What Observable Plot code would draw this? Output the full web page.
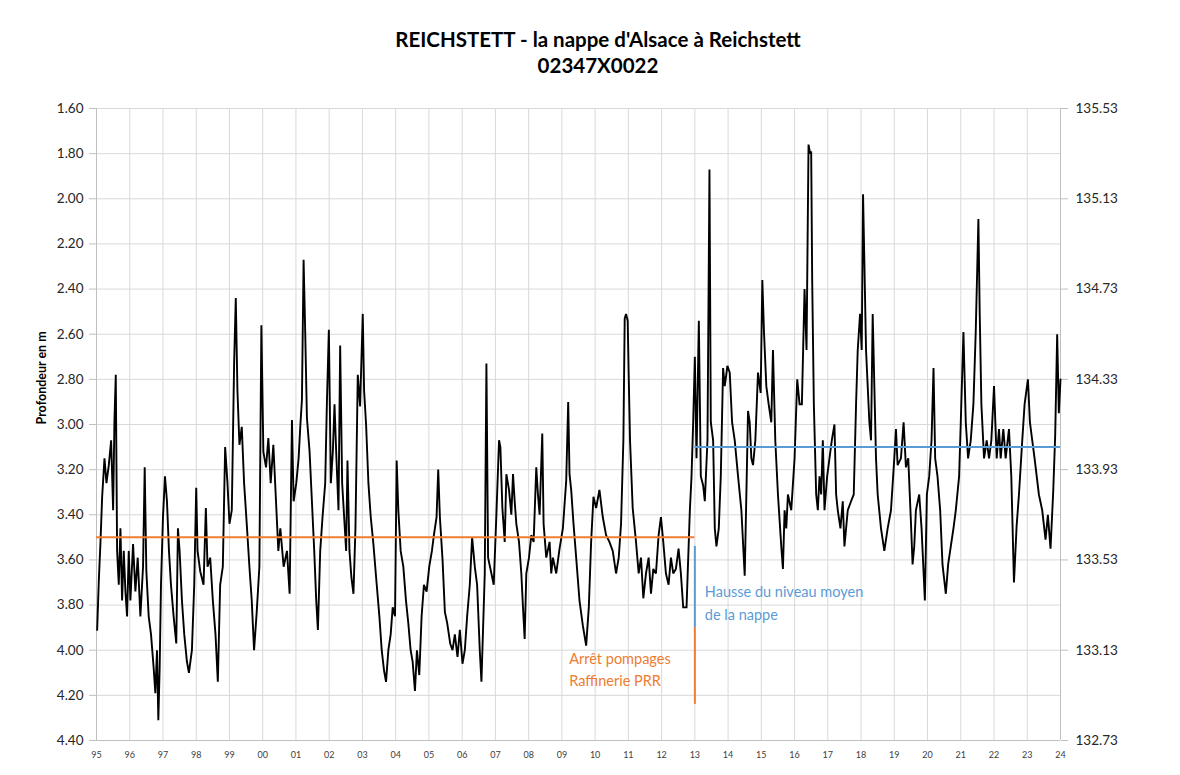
<!DOCTYPE html>
<html><head><meta charset="utf-8">
<script src="https://cdn.jsdelivr.net/npm/d3@7"></script>
<script src="https://cdn.jsdelivr.net/npm/@observablehq/plot@0.6"></script>
<style>
body{margin:0;background:#fff;font-family:Lato,"Open Sans",sans-serif;}
#wrap{position:relative;width:1180px;height:775px;overflow:hidden;}
#title{position:absolute;left:598px;top:26px;transform:translateX(-50%);text-align:center;font-weight:bold;font-size:20.5px;line-height:26px;color:#000;white-space:nowrap;}
#chart{position:absolute;left:0;top:95px;}
</style></head><body>
<div id="wrap">
<div id="title">REICHSTETT - la nappe d'Alsace à Reichstett<br>02347X0022</div>
<div id="chart"></div>
</div>
<script>
// Time (decimal years) and depth (m below ground)
const years = [
1995.02,1995.07,1995.12,1995.17,1995.24,1995.30,1995.37,1995.44,1995.50,1995.54,1995.58,1995.62,1995.67,1995.72,1995.77,1995.82,1995.87,1995.92,1995.97,
1996.02,1996.10,1996.17,1996.24,1996.32,1996.40,1996.45,1996.50,1996.57,1996.64,1996.72,1996.77,1996.82,1996.86,1996.90,1996.94,
1997.00,1997.06,1997.12,1997.18,1997.24,1997.32,1997.40,1997.45,1997.50,1997.57,1997.64,1997.72,1997.78,1997.87,1997.94,
1998.00,1998.04,1998.12,1998.22,1998.29,1998.34,1998.42,1998.50,1998.58,1998.65,1998.72,1998.80,1998.87,1998.94,
1999.00,1999.07,1999.14,1999.19,1999.24,1999.30,1999.37,1999.44,1999.52,1999.60,1999.67,1999.74,1999.82,1999.90,1999.96,
2000.02,2000.10,2000.17,2000.24,2000.32,2000.40,2000.47,2000.53,2000.63,2000.73,2000.81,2000.88,2000.93,
2001.01,2001.08,2001.13,2001.18,2001.23,2001.28,2001.33,2001.41,2001.48,2001.55,2001.61,2001.66,2001.73,2001.80,2001.88,2001.93,2001.99,
2002.05,2002.11,2002.16,2002.21,2002.28,2002.33,2002.39,2002.45,2002.51,2002.55,2002.61,2002.67,2002.73,2002.79,2002.86,2002.93,
2003.01,2003.05,2003.11,2003.18,2003.25,2003.33,2003.43,2003.51,2003.58,2003.65,2003.71,2003.78,2003.85,2003.91,2003.98,
2004.03,2004.08,2004.15,2004.23,2004.31,2004.38,2004.45,2004.51,2004.58,2004.64,2004.71,2004.78,2004.85,2004.93,
2005.01,2005.09,2005.15,2005.23,2005.28,2005.33,2005.41,2005.48,2005.55,2005.64,2005.71,2005.78,2005.86,2005.93,
2006.01,2006.08,2006.15,2006.23,2006.30,2006.38,2006.45,2006.53,2006.58,2006.68,2006.73,2006.78,2006.88,2006.95,
2007.03,2007.11,2007.15,2007.21,2007.28,2007.33,2007.41,2007.48,2007.53,2007.58,2007.63,2007.71,2007.78,2007.83,2007.88,2007.93,
2008.01,2008.08,2008.15,2008.23,2008.28,2008.33,2008.41,2008.45,2008.53,2008.63,2008.68,2008.73,2008.83,2008.93,
2009.03,2009.13,2009.19,2009.23,2009.28,2009.35,2009.43,2009.53,2009.63,2009.73,2009.81,2009.88,2009.95,
2010.03,2010.13,2010.23,2010.33,2010.43,2010.53,2010.63,2010.71,2010.78,2010.85,2010.89,2010.93,2010.98,
2011.01,2011.05,2011.13,2011.23,2011.31,2011.38,2011.45,2011.53,2011.61,2011.68,2011.75,2011.83,2011.91,2011.98,
2012.05,2012.13,2012.21,2012.28,2012.35,2012.43,2012.51,2012.58,2012.65,2012.75,2012.85,2012.90,2012.95,
2013.00,2013.05,2013.12,2013.18,2013.25,2013.30,2013.38,2013.44,2013.48,2013.55,2013.60,2013.65,2013.72,2013.78,2013.85,2013.90,2013.98,
2014.05,2014.12,2014.20,2014.30,2014.40,2014.50,2014.55,2014.60,2014.65,2014.70,2014.75,2014.82,2014.90,2014.98,
2015.03,2015.08,2015.15,2015.22,2015.30,2015.35,2015.42,2015.50,2015.60,2015.65,2015.70,2015.75,2015.80,2015.90,
2016.00,2016.08,2016.15,2016.22,2016.30,2016.36,2016.42,2016.47,2016.50,2016.53,2016.58,2016.65,2016.70,2016.75,2016.80,2016.85,2016.90,2016.98,
2017.05,2017.12,2017.20,2017.25,2017.30,2017.38,2017.45,2017.50,2017.60,2017.70,2017.78,2017.85,2017.90,2017.97,
2018.02,2018.06,2018.10,2018.15,2018.20,2018.25,2018.30,2018.35,2018.40,2018.45,2018.50,2018.60,2018.70,2018.80,2018.90,
2019.00,2019.05,2019.10,2019.20,2019.28,2019.35,2019.42,2019.50,2019.55,2019.60,2019.65,2019.75,2019.82,2019.92,2019.98,
2020.05,2020.12,2020.18,2020.23,2020.30,2020.38,2020.45,2020.55,2020.62,2020.70,2020.78,2020.85,2020.95,
2021.00,2021.08,2021.15,2021.22,2021.30,2021.38,2021.45,2021.50,2021.53,2021.57,2021.62,2021.70,2021.78,2021.85,2021.92,
2022.00,2022.08,2022.15,2022.20,2022.28,2022.35,2022.45,2022.52,2022.60,2022.68,2022.75,2022.85,2022.92,
2023.02,2023.08,2023.15,2023.22,2023.35,2023.45,2023.55,2023.62,2023.70,2023.78,2023.84,2023.90,2023.95,2024.00
];
const depths = [
3.91,3.69,3.52,3.32,3.15,3.26,3.18,3.07,3.38,2.98,2.78,3.56,3.71,3.46,3.78,3.56,3.74,3.85,3.56,
3.78,3.53,3.74,3.59,3.85,3.63,3.19,3.65,3.85,3.93,4.08,4.19,4.00,4.31,4.08,3.71,
3.41,3.23,3.34,3.56,3.71,3.85,3.97,3.46,3.56,3.78,3.93,4.05,4.10,4.00,3.71,
3.28,3.56,3.65,3.71,3.37,3.63,3.59,3.78,3.93,4.14,3.71,3.63,3.10,3.26,
3.44,3.38,2.73,2.44,2.85,3.09,3.01,3.26,3.44,3.63,3.78,4.00,3.83,3.63,2.56,
3.12,3.19,3.06,3.26,3.09,3.34,3.56,3.46,3.63,3.56,3.75,2.98,3.34,
3.26,3.15,3.01,2.89,2.27,2.60,2.97,3.12,3.34,3.56,3.78,3.91,3.56,3.41,3.26,2.91,2.58,
3.26,3.12,2.91,3.12,3.38,2.65,3.26,3.41,3.56,3.16,3.56,3.68,3.75,3.46,2.78,2.92,
2.51,2.85,3.00,3.26,3.41,3.53,3.71,3.85,4.00,4.09,4.14,4.00,3.93,3.81,3.85,
3.16,3.38,3.56,3.63,3.78,3.88,4.00,4.05,4.18,4.00,4.11,3.85,3.71,3.74,
3.63,3.56,3.49,3.41,3.20,3.41,3.60,3.83,3.88,3.97,4.00,3.93,4.03,3.91,
4.06,4.00,3.85,3.71,3.50,3.63,3.71,4.00,4.14,3.66,2.73,3.59,3.66,3.71,
3.40,3.07,3.10,3.37,3.52,3.22,3.29,3.40,3.22,3.34,3.44,3.52,3.66,3.81,3.95,3.66,
3.59,3.49,3.52,3.19,3.31,3.40,3.04,3.44,3.59,3.52,3.66,3.59,3.66,3.55,
3.46,3.25,2.90,3.22,3.29,3.44,3.59,3.78,3.89,3.98,3.81,3.52,3.32,
3.37,3.29,3.41,3.49,3.52,3.56,3.66,3.59,3.44,3.07,2.53,2.51,2.54,
2.78,3.07,3.37,3.52,3.66,3.59,3.77,3.66,3.59,3.75,3.64,3.66,3.49,3.41,
3.52,3.66,3.71,3.59,3.66,3.64,3.55,3.66,3.81,3.81,3.38,3.23,2.99,
2.70,3.15,2.54,3.23,3.27,3.34,3.07,1.87,2.99,3.07,3.46,3.54,3.46,3.23,2.75,2.83,2.74,
2.77,2.99,3.07,3.23,3.38,3.67,3.31,2.94,2.99,3.15,3.18,3.07,2.77,2.86,
2.36,2.59,2.83,2.91,2.99,2.67,3.07,3.31,3.54,3.64,3.38,3.46,3.31,3.38,
3.15,2.80,2.91,2.91,2.40,2.67,1.76,1.80,1.79,2.36,2.91,3.31,3.38,3.23,3.31,3.07,3.38,3.23,
3.15,3.07,3.00,3.31,3.38,3.46,3.34,3.54,3.38,3.34,3.31,2.91,2.67,2.51,
2.67,1.98,2.28,2.67,2.83,2.99,3.07,2.51,2.83,3.15,3.31,3.46,3.56,3.46,3.38,
3.15,3.02,3.18,3.15,2.99,3.19,3.15,3.43,3.62,3.54,3.38,3.31,3.46,3.78,3.31,
3.23,3.07,2.75,3.15,3.23,3.38,3.62,3.75,3.62,3.54,3.46,3.38,3.23,
2.99,2.59,2.99,3.15,3.07,2.91,2.59,2.28,2.09,2.51,2.91,3.15,3.07,3.15,3.07,
2.83,3.15,3.02,3.15,3.02,3.15,3.02,3.23,3.70,3.45,3.31,3.07,2.91,
2.80,2.99,3.07,3.15,3.31,3.38,3.51,3.40,3.55,3.30,3.05,2.60,2.95,2.80
];

// Axis ticks
const yearTicks = d3.range(1995, 2025);
const depthTicks = d3.range(0, 15).map(i => +(1.6 + i * 0.2).toFixed(2));
const rightTicks = d3.range(0, 8).map(i => +(1.6 + i * 0.4).toFixed(2));
const altitudeRef = 137.13; // NGF altitude = altitudeRef - depth

// Mean levels before / after the stop of pumping
const meanBefore = 3.50, meanAfter = 3.10;
const breakYear = 2013;
const blueSegment = [3.54, 3.90];
const orangeSegment = [3.90, 4.24];

const data = years.map((t, i) => ({t, d: depths[i]}));

const orange = "#ED7D31", blue = "#5B9BD5";
const chart = Plot.plot({
  width: 1180, height: 675,
  marginLeft: 96, marginRight: 120, marginTop: 13, marginBottom: 30,
  style: {fontFamily: "Lato, 'Open Sans', sans-serif", background: "#fff", color: "#404040"},
  x: {domain: [1995, 2024], axis: null},
  y: {domain: [1.6, 4.4], reverse: true, axis: null},
  marks: [
    Plot.gridX(yearTicks, {stroke: "#d9d9d9", strokeOpacity: 1}),
    Plot.gridY(depthTicks, {stroke: "#d9d9d9", strokeOpacity: 1}),
    Plot.axisY(depthTicks, {anchor: "left", tickFormat: d => d.toFixed(2), fontSize: 13.5, tickSize: 7, tickPadding: 6, stroke: "#bfbfbf", fill: "#262626", label: null}),
    Plot.axisY(rightTicks, {anchor: "right", tickFormat: d => (altitudeRef - d).toFixed(2), fontSize: 13.5, tickSize: 7, tickPadding: 8, stroke: "#bfbfbf", fill: "#262626", label: null}),
    Plot.axisX(yearTicks, {anchor: "bottom", tickFormat: d => String(d % 100).padStart(2, "0"), fontSize: 9, tickSize: 0, tickPadding: 11, fill: "#404040", label: null}),
    Plot.ruleX([1995, 2024], {stroke: "#bfbfbf"}),
    Plot.ruleY([4.4], {stroke: "#bfbfbf"}),
    Plot.line(data, {x: "t", y: "d", stroke: "#000", strokeWidth: 1.9, strokeLinejoin: "miter", strokeMiterlimit: 3}),
    Plot.ruleY([meanBefore], {x1: 1995, x2: breakYear, stroke: orange, strokeWidth: 2}),
    Plot.ruleY([meanAfter], {x1: breakYear, x2: 2024, stroke: blue, strokeWidth: 2}),
    Plot.ruleX([breakYear], {y1: blueSegment[0], y2: blueSegment[1], stroke: blue, strokeWidth: 2}),
    Plot.ruleX([breakYear], {y1: orangeSegment[0], y2: orangeSegment[1], stroke: orange, strokeWidth: 2}),
    Plot.text(["Hausse du niveau moyen"], {x: 2013.3, y: 3.745, text: d => d, textAnchor: "start", fill: blue, fontSize: 14.5}),
    Plot.text(["de la nappe"], {x: 2013.3, y: 3.845, text: d => d, textAnchor: "start", fill: blue, fontSize: 14.5}),
    Plot.text(["Arrêt pompages"], {x: 2009.22, y: 4.04, text: d => d, textAnchor: "start", fill: orange, fontSize: 14.5}),
    Plot.text(["Raffinerie PRR"], {x: 2009.22, y: 4.14, text: d => d, textAnchor: "start", fill: orange, fontSize: 14.5}),
    Plot.text(["Profondeur en m"], {frameAnchor: "left", dx: -55, rotate: -90, text: d => d, fontSize: 12.5, fontWeight: "bold", fill: "#000"})
  ]
});
document.getElementById("chart").appendChild(chart);
</script>
</body></html>
